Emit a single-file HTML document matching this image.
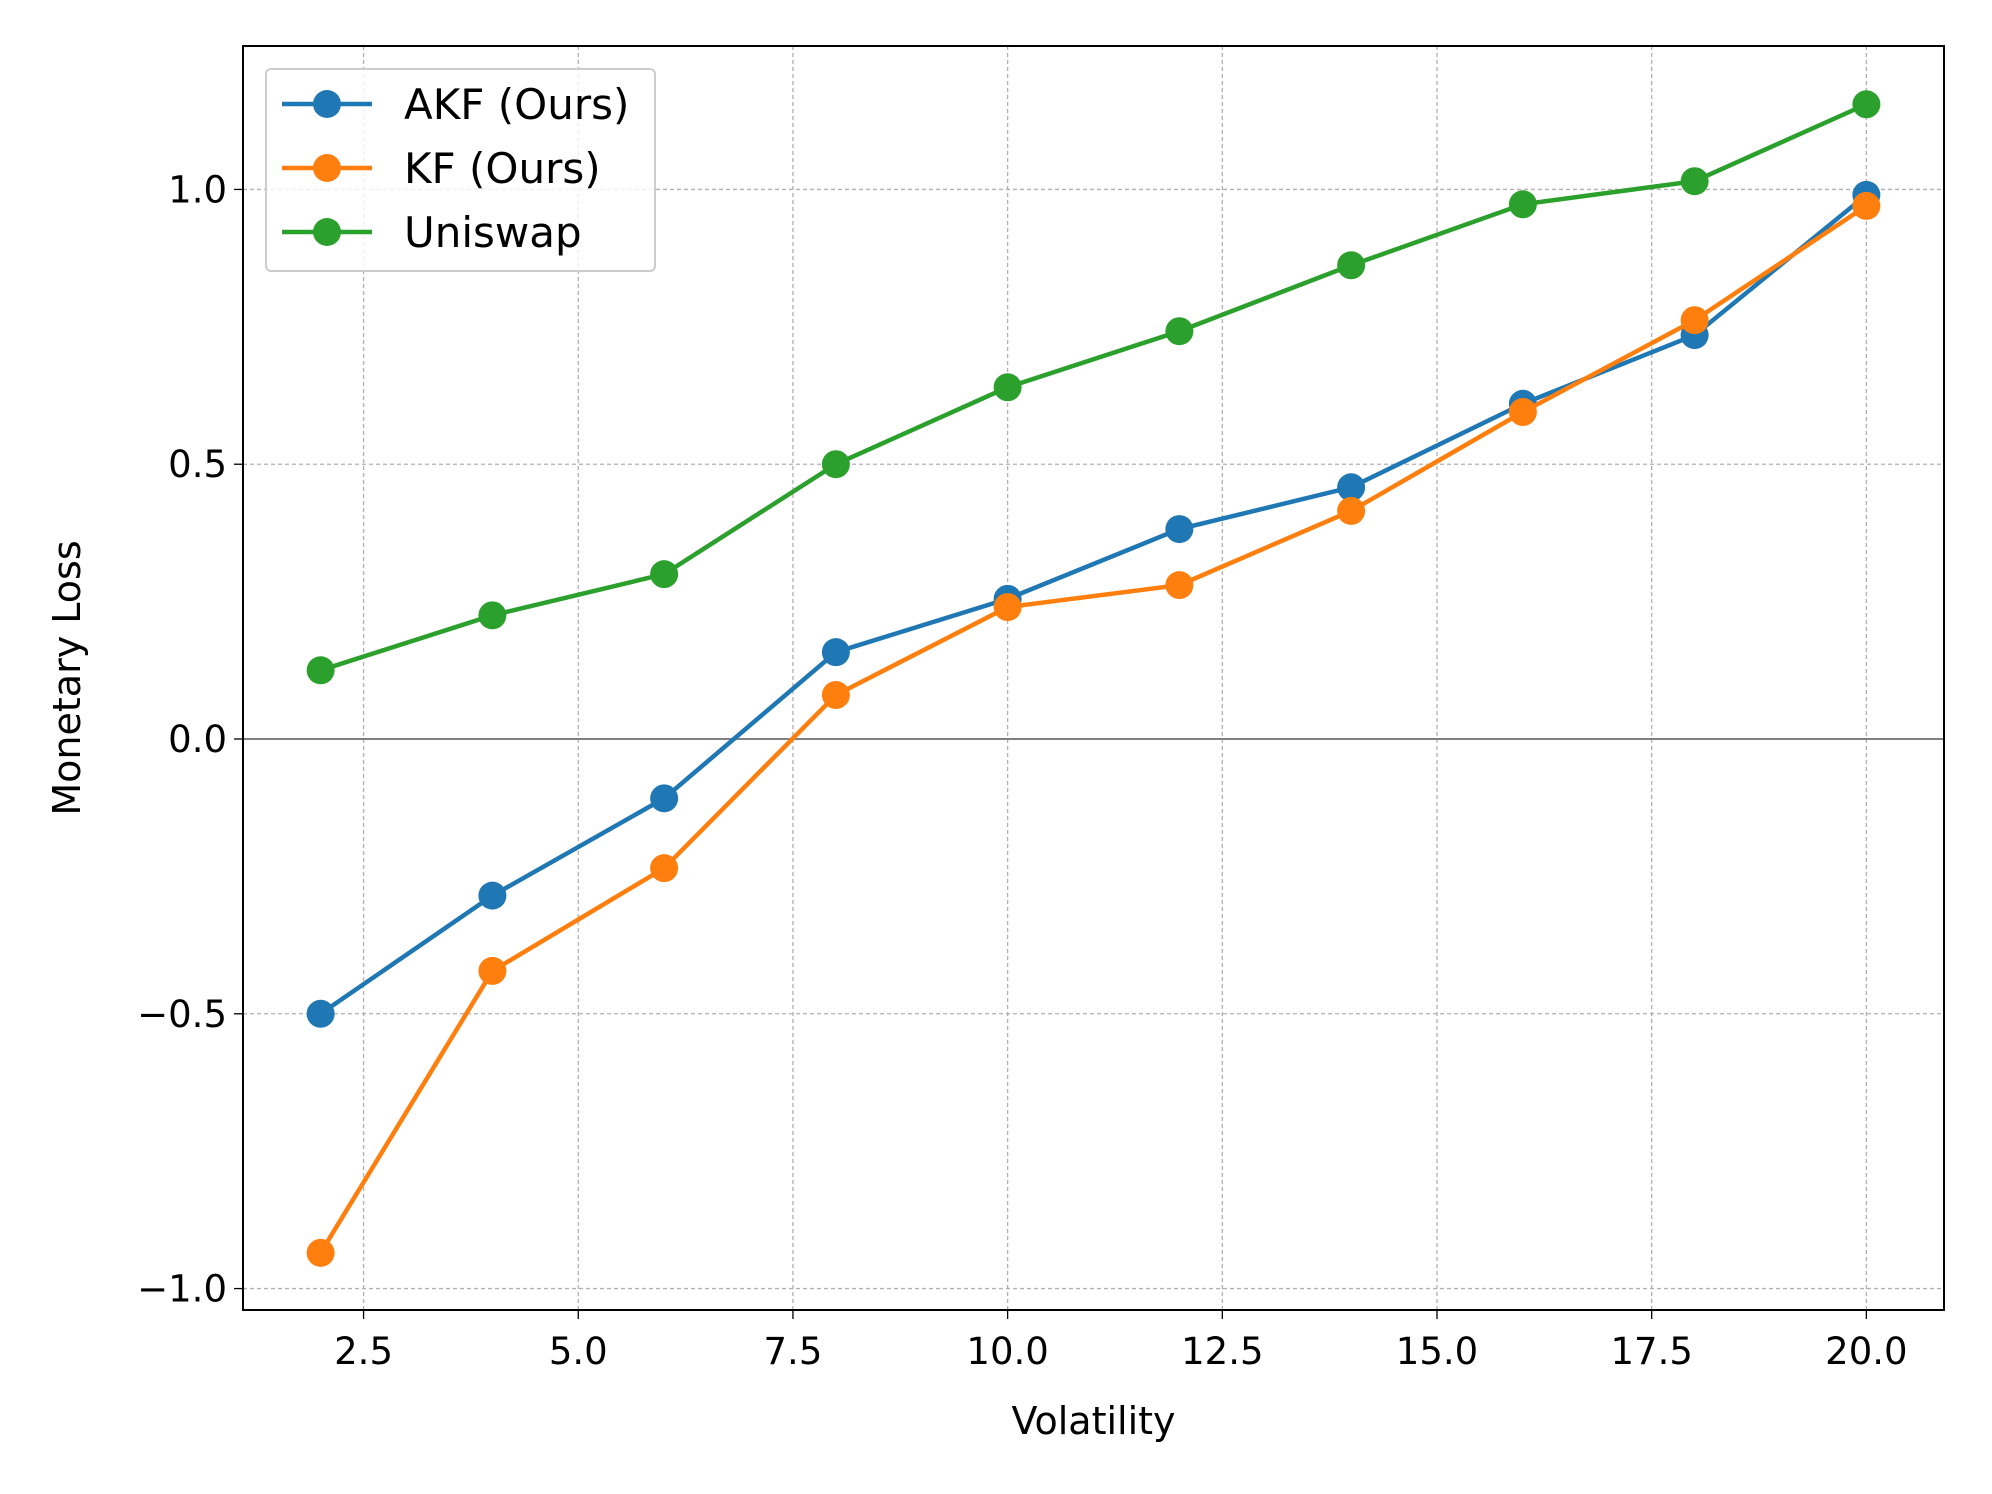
<!DOCTYPE html>
<html><head><meta charset="utf-8"><style>html,body{margin:0;padding:0;background:#fff}svg{display:block;font-family:"DejaVu Sans","Liberation Sans",sans-serif}</style></head>
<body>
<svg id="chart" width="1992" height="1494"></svg>
<script>
const xValues=[2,4,6,8,10,12,14,16,18,20];
const akfValues=[-0.5,-0.285,-0.108,0.158,0.255,0.382,0.458,0.61,0.735,0.99];
const kfValues=[-0.935,-0.422,-0.235,0.08,0.24,0.28,0.415,0.595,0.762,0.97];
const uniswapValues=[0.125,0.225,0.3,0.5,0.64,0.742,0.862,0.973,1.015,1.155];
const xTicks=[2.5,5.0,7.5,10.0,12.5,15.0,17.5,20.0];
const yTicks=[-1.0,-0.5,0.0,0.5,1.0];
const seriesNames=["AKF (Ours)","KF (Ours)","Uniswap"];
const L=243,R=1944,T=46,B=1310;
const xMin=1.096,xMax=20.904,yMin=-1.039,yMax=1.261;
const sx=v=>L+(v-xMin)/(xMax-xMin)*(R-L);
const sy=v=>B-(v-yMin)/(yMax-yMin)*(B-T);
const svg=document.getElementById('chart');
const NS='http://www.w3.org/2000/svg';
function mk(tag,attrs,parent){const e=document.createElementNS(NS,tag);for(const k in attrs)e.setAttribute(k,attrs[k]);(parent||svg).appendChild(e);return e;}
const fmt=v=>(v<0?'\u2212':'')+Math.abs(v).toFixed(1);
xTicks.forEach(t=>{
 const g=mk('line',{x1:sx(t),x2:sx(t),y1:T,y2:B,stroke:'#b0b0b0','stroke-width':1.3,'stroke-dasharray':'4,3'});
 
 const tk=mk('line',{x1:sx(t),x2:sx(t),y1:B,y2:B+9,stroke:'#000','stroke-width':1.3});
 
 const tx=mk('text',{x:sx(t),y:B+54,'font-size':37,'text-anchor':'middle'});tx.textContent=fmt(t);
 
});
yTicks.forEach(t=>{
 const g=mk('line',{x1:L,x2:R,y1:sy(t),y2:sy(t),stroke:'#b0b0b0','stroke-width':1.3,'stroke-dasharray':'4,3'});
 
 const tk=mk('line',{x1:L-9,x2:L,y1:sy(t),y2:sy(t),stroke:'#000','stroke-width':1.3});
 
 const tx=mk('text',{x:L-16,y:sy(t)+13,'font-size':37,'text-anchor':'end'});tx.textContent=fmt(t);
 
});
const zl=mk('line',{x1:L,x2:R,y1:sy(0),y2:sy(0),stroke:'#808080','stroke-width':2});

const colors=['#1f77b4','#ff7f0e','#2ca02c'];
[akfValues,kfValues,uniswapValues].forEach((vals,i)=>{
 const p=mk('polyline',{points:vals.map((v,j)=>sx(xValues[j])+','+sy(v)).join(' '),fill:'none',stroke:colors[i],'stroke-width':4.5});
 
 vals.forEach((v,j)=>{const c=mk('circle',{cx:sx(xValues[j]),cy:sy(v),r:14,fill:colors[i]});
  });
});
const fr=mk('rect',{x:L,y:T,width:R-L,height:B-T,fill:'none',stroke:'#000','stroke-width':2});

const lg=mk('g',{});
mk('rect',{x:266,y:69,width:389,height:202,rx:5,fill:'#fff','fill-opacity':0.8,stroke:'#ccc','stroke-width':2},lg);
seriesNames.forEach((n,i)=>{
 const y=104+i*64;
 const e=mk('g',{},lg);
 mk('line',{x1:282,x2:372,y1:y,y2:y,stroke:colors[i],'stroke-width':4.5},e);
 mk('circle',{cx:327,cy:y,r:14,fill:colors[i]},e);
 const t=mk('text',{x:404,y:y+15,'font-size':42},e);t.textContent=n;
});
const xt=mk('text',{x:(L+R)/2,y:1434,'font-size':38,'text-anchor':'middle'});xt.textContent='Volatility';

const yt=mk('text',{x:0,y:0,'font-size':38,'text-anchor':'middle',transform:'translate(80,'+((T+B)/2)+') rotate(-90)'});yt.textContent='Monetary Loss';

</script>
</body></html>
